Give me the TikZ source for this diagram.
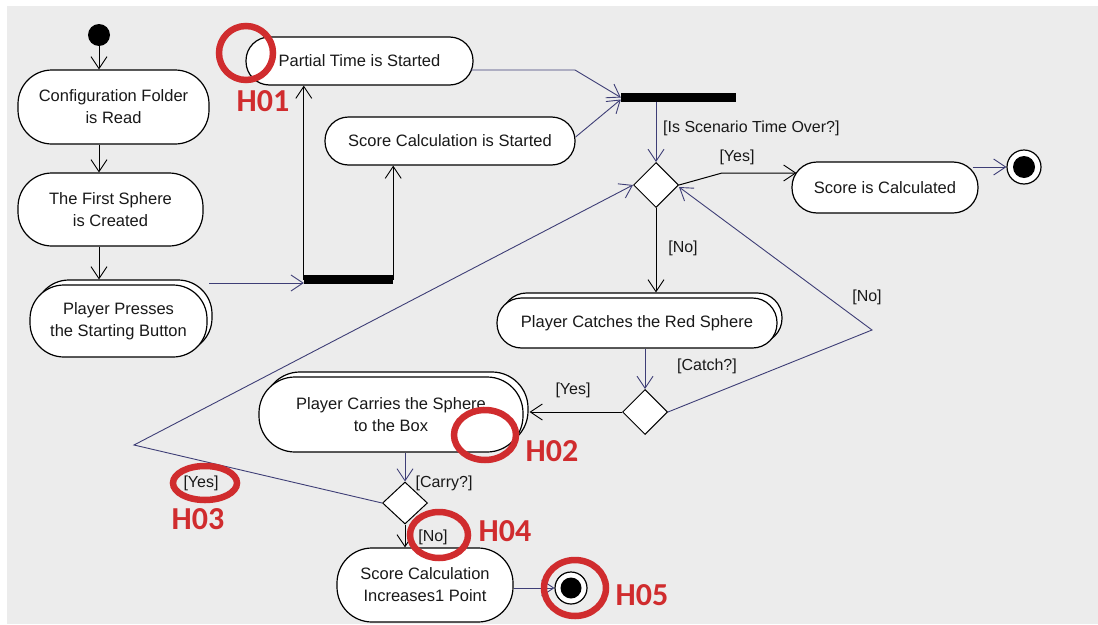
\documentclass[tikz,border=0pt]{standalone}
\usepackage{fontspec}
\setmainfont{Liberation Sans}
\newfontfamily\hfont{Carlito}
\usetikzlibrary{arrows.meta,shapes.geometric,shadows,calc}
\definecolor{bgg}{RGB}{236,236,236}
\definecolor{navy}{RGB}{62,62,118}
\definecolor{redc}{RGB}{208,44,46}
\definecolor{txt}{RGB}{25,25,25}
\newcommand\actfont{\fontsize{16.5}{22}\selectfont}
\newcommand\lblfont{\fontsize{16}{20}\selectfont}
\newcommand\annfont{\hfont\bfseries\fontsize{32}{34}\selectfont}
\begin{document}
\begin{tikzpicture}[x=1pt,y=-1pt,
  tip/.style={-{Straight Barb[length=12pt,width=16pt,line width=0.9pt]}},
  conn/.style={draw=navy,line width=0.9pt,tip},
  conb/.style={draw=black,line width=1pt,tip},
  act/.style={draw=black,line width=1.2pt,fill=white,inner sep=0pt,align=center,font=\actfont,text=txt},
  shad/.style={copy shadow={shadow xshift=5pt,shadow yshift=5pt,draw=black,line width=1.2pt,fill=white}},
  bar/.style={fill=black,inner sep=0pt},
  dec/.style={diamond,draw=black,line width=1pt,fill=white,inner sep=0pt,minimum width=45pt,minimum height=45pt},
  lbl/.style={font=\lblfont,text=txt,inner sep=0pt},
  ann/.style={draw=redc,line width=6.5pt},
  annt/.style={font=\annfont,text=redc,inner sep=0pt}]
\fill[white] (0,0) rectangle (1098,624);
\fill[bgg] (7,6) rectangle (1098,624);
\useasboundingbox (0,0) rectangle (1098,624);

% activity nodes
\node[circle,fill=black,minimum size=22pt,inner sep=0pt] (init) at (99,35) {};
\node[act,minimum width=191pt,minimum height=74pt,rounded corners=34pt] (a1) at (113.5,107) {Configuration Folder\\is Read};
\node[act,minimum width=185pt,minimum height=73pt,rounded corners=34pt] (a2) at (110.5,209.5) {The First Sphere\\is Created};
\node[act,shad,minimum width=177pt,minimum height=72pt,rounded corners=34pt] (a3) at (118.5,321) {Player Presses\\the Starting Button};
\node[act,minimum width=227pt,minimum height=48pt,rounded corners=23.5pt] (pt) at (359.5,61) {Partial Time is Started};
\node[act,minimum width=250pt,minimum height=48pt,rounded corners=23.5pt] (scs) at (450,141) {Score Calculation is Started};
\node[bar,minimum width=89pt,minimum height=9pt] (b1) at (348.5,279.5) {};
\node[bar,minimum width=115pt,minimum height=9pt] (b2) at (678.5,97.5) {};
\node[dec] (d1) at (656,185) {};
\node[act,minimum width=186pt,minimum height=51pt,rounded corners=25pt] (sc) at (885,187.5) {Score is Calculated};
\node[circle,draw=black,fill=white,line width=1.2pt,minimum size=34pt,inner sep=0pt] (f1) at (1024,167) {};
\node[circle,fill=black,minimum size=22pt,inner sep=0pt] (f1i) at (f1) {};
\node[act,shad,minimum width=280pt,minimum height=50pt,rounded corners=24.5pt] (cat) at (637,323) {Player Catches the Red Sphere};
\node[dec] (d2) at (645,412) {};
\node[act,shad,minimum width=264pt,minimum height=75pt,rounded corners=36pt] (car) at (391,414.5) {Player Carries the Sphere\\to the Box};
\node[dec,minimum width=45pt,minimum height=42pt] (d3) at (405,503) {};
\node[act,minimum width=176pt,minimum height=74pt,rounded corners=35pt] (inc) at (425,585) {Score Calculation\\Increases1 Point};
\node[circle,draw=black,fill=white,line width=1.2pt,minimum size=32pt,inner sep=0pt] (f2) at (571,588) {};
\node[circle,fill=black,minimum size=21pt,inner sep=0pt] (f2i) at (f2) {};

% connectors
\draw[conb] (init) -- (init |- a1.north);
\draw[conb] (a1.south -| init) -- (a2.north -| init);
\draw[conb] (a2.south -| init) -- ($(a3.north -| init)+(0,-5)$);
\coordinate (a3r) at (209,283);
\draw[conn] (a3r) -- (a3r -| b1.west);
\draw[conb] (b1.west) -- (b1.west |- pt.south);
\draw[conb] (b1.east) -- (b1.east |- scs.south);
\coordinate (k0) at (575,70);
\draw[conn] ($(pt.east |- k0)+(-3,0)$) -- (k0) -- (b2.west);
\draw[conn] ($(scs.east)+(0,-4)$) -- ($(b2.west)+(0,2)$);
\draw[conn] (b2.south -| d1) -- (d1.north);
\coordinate (k1) at (722,173);
\draw[conb] (d1.east) -- (k1) -- ($(k1 -| sc.west)+(5,0)$);
\draw[conn] ($(sc.east |- f1)+(-6,0)$) -- (f1);
\draw[conb] (d1.south) -- ($(d1.south |- cat.north)+(0,-5)$);
\draw[conn] (cat.south -| d2) -- (d2.north);
\draw[conb] (d2.west) -- ($(d2.west -| car.east)+(6,0)$);
\coordinate (k2) at (872,330);
\draw[conn] (d2.east) -- (k2) -- ($(d1.east)+(0,2)$);
\draw[conn] (car.south -| d3) -- (d3.north);
\coordinate (k3) at (134,445);
\draw[conn] (d3.west) -- (k3) -- (d1.west);
\draw[conb] (d3.south) -- (d3.south |- inc.north);
\draw[conn] (inc.east |- f2) -- (f2);

% guard labels
\node[lbl,anchor=west] (l1) at (663,128) {[Is Scenario Time Over?]};
\node[lbl] (l2) at (737,157) {[Yes]};
\node[lbl] (l3) at (683,248) {[No]};
\node[lbl] (l4) at (867,297) {[No]};
\node[lbl] (l5) at (707,366) {[Catch?]};
\node[lbl] (l6) at (573,390) {[Yes]};
\node[lbl] (l7) at (444,483) {[Carry?]};
\node[lbl] (l8) at (201,483) {[Yes]};
\node[lbl] (l9) at (433,537) {[No]};

% red annotations
\draw[ann] (246,53) circle (27pt);
\draw[ann] (485,435) ellipse [x radius=31pt,y radius=25pt];
\draw[ann] (205,483) ellipse [x radius=32pt,y radius=17pt];
\draw[ann] (439,535) ellipse [x radius=29pt,y radius=23pt];
\draw[ann] (575,588) ellipse [x radius=31pt,y radius=28pt];
\node[annt] (h1) at (263,101) {H01};
\node[annt] (h2) at (552,451) {H02};
\node[annt] (h3) at (198,519) {H03};
\node[annt] (h4) at (505,531) {H04};
\node[annt] (h5) at (642,595) {H05};
\end{tikzpicture}
\end{document}
